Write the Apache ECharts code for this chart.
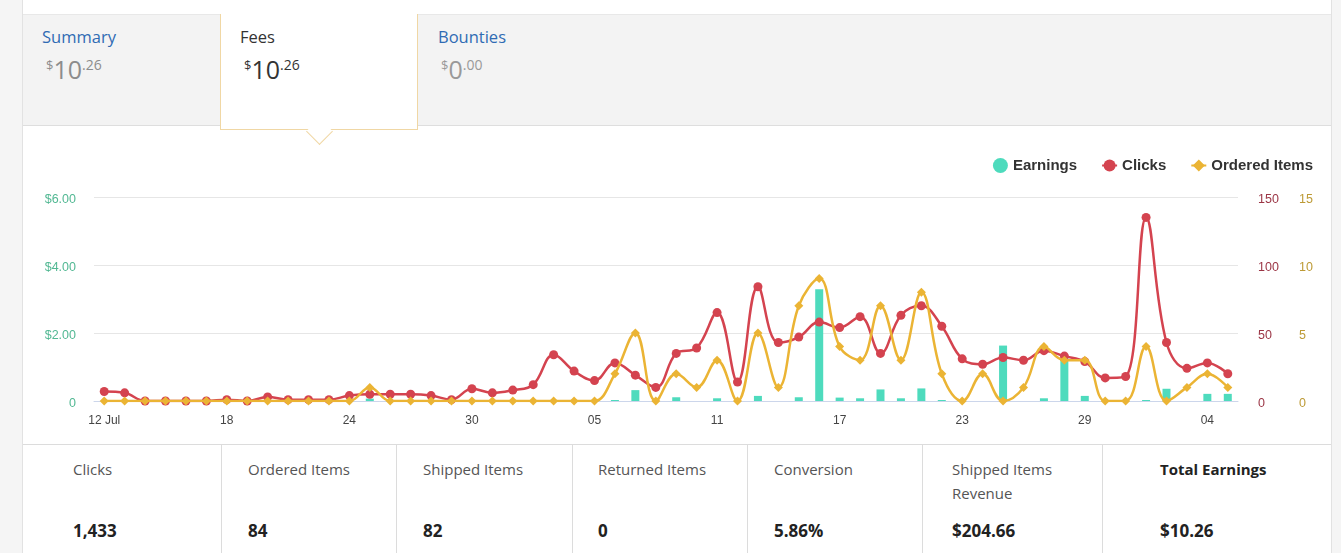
<!DOCTYPE html>
<html>
<head>
<meta charset="utf-8">
<script src="https://cdn.jsdelivr.net/npm/echarts@6/dist/echarts.min.js"></script>
<style>
  html, body { margin:0; padding:0; width:1341px; height:553px; overflow:hidden; background:#fff; font-family:"Open Sans", "Noto Sans", sans-serif; }
  .abs { position:absolute; }
  #leftband { left:0; top:0; width:22px; height:553px; background:#f5f5f5; border-right:1px solid #e2e2e2; }
  #rightband { left:1331px; top:0; width:10px; height:553px; background:#f5f5f5; border-left:1px solid #e2e2e2; }
  #tabs { left:23px; top:14px; width:1308px; height:110px; background:#f3f3f3; border-top:1px solid #e8e8e8; border-bottom:1px solid #dedede; }
  #seltab { left:220px; top:14px; width:196px; height:115px; background:#fff; border:1px solid #f0d7a4; border-top:none; z-index:2; }
  #arrow { left:310px; top:122px; width:18px; height:18px; background:#fff; border-right:1px solid #f0d7a4; border-bottom:1px solid #f0d7a4; transform:rotate(45deg); z-index:3; }
  .tabname { font-size:16.5px; line-height:20px; z-index:4; }
  .tabval { color:#8c8c8c; z-index:4; line-height:30px; }
  .tabval .cur { font-size:13px; vertical-align:9px; }
  .tabval .big { font-size:25px; }
  .tabval .dec { font-size:14px; vertical-align:9px; }
  #statsline { left:23px; top:444px; width:1308px; height:1px; background:#dcdcdc; }
  .vdiv { top:444px; width:1px; height:109px; background:#dcdcdc; }
  .slabel { font-size:15px; color:#555; line-height:24px; top:457px; }
  .sval { font-size:17px; font-weight:bold; color:#222; top:519px; line-height:24px; }
  #chart { left:0; top:0; width:1341px; height:553px; z-index:5; }
</style>
</head>
<body>
<div id="leftband" class="abs"></div>
<div id="rightband" class="abs"></div>
<div id="tabs" class="abs"></div>
<div id="seltab" class="abs"></div>
<div id="arrow" class="abs"></div>

<div class="abs tabname" style="left:42px;top:27px;color:#2f6bb3;">Summary</div>
<div class="abs tabval" style="left:46px;top:50px;"><span class="cur">$</span><span class="big">10</span><span class="dec">.26</span></div>
<div class="abs tabname" style="left:240px;top:27px;color:#333;">Fees</div>
<div class="abs tabval" style="left:244px;top:50px;color:#333;"><span class="cur">$</span><span class="big">10</span><span class="dec">.26</span></div>
<div class="abs tabname" style="left:438px;top:27px;color:#2f6bb3;">Bounties</div>
<div class="abs tabval" style="left:441px;top:50px;color:#999;"><span class="cur">$</span><span class="big">0</span><span class="dec">.00</span></div>

<div id="statsline" class="abs"></div>
<div class="abs vdiv" style="left:221px"></div>
<div class="abs vdiv" style="left:396px"></div>
<div class="abs vdiv" style="left:572px"></div>
<div class="abs vdiv" style="left:747px"></div>
<div class="abs vdiv" style="left:922px"></div>
<div class="abs vdiv" style="left:1102px"></div>

<div class="abs slabel" style="left:73px">Clicks</div>
<div class="abs slabel" style="left:248px">Ordered Items</div>
<div class="abs slabel" style="left:423px">Shipped Items</div>
<div class="abs slabel" style="left:598px">Returned Items</div>
<div class="abs slabel" style="left:774px">Conversion</div>
<div class="abs slabel" style="left:952px">Shipped Items<br>Revenue</div>
<div class="abs slabel" style="left:1160px;font-weight:bold;color:#222;">Total Earnings</div>

<div class="abs sval" style="left:73px">1,433</div>
<div class="abs sval" style="left:248px">84</div>
<div class="abs sval" style="left:423px">82</div>
<div class="abs sval" style="left:598px">0</div>
<div class="abs sval" style="left:774px">5.86%</div>
<div class="abs sval" style="left:952px">$204.66</div>
<div class="abs sval" style="left:1160px">$10.26</div>

<div id="chart" class="abs"></div>

<script>
const categories = [
  '12 Jul','13 Jul','14 Jul','15 Jul','16 Jul','17 Jul','18 Jul','19 Jul','20 Jul','21 Jul',
  '22 Jul','23 Jul','24 Jul','25 Jul','26 Jul','27 Jul','28 Jul','29 Jul','30 Jul','31 Jul',
  '01 Aug','02 Aug','03 Aug','04 Aug','05 Aug','06 Aug','07 Aug','08 Aug','09 Aug','10 Aug',
  '11 Aug','12 Aug','13 Aug','14 Aug','15 Aug','16 Aug','17 Aug','18 Aug','19 Aug','20 Aug',
  '21 Aug','22 Aug','23 Aug','24 Aug','25 Aug','26 Aug','27 Aug','28 Aug','29 Aug','30 Aug',
  '31 Aug','01 Sep','02 Sep','03 Sep','04 Sep','05 Sep'
];
const earnings = [
  0,0,0,0,0,0,0,0,0,0,
  0,0,0,0.07,0,0,0,0,0,0,
  0,0,0,0,0,0.03,0.32,0,0.11,0,
  0.08,0,0.15,0,0.11,3.29,0.10,0.08,0.34,0.08,
  0.37,0.03,0,0,1.63,0,0.08,1.30,0.15,0,
  0,0.03,0.36,0,0.21,0.21
];
const clicks = [
  7,6,0,0,0,0,1,0,3,1,
  1,1,4,5,5,5,4,1,9,6,
  8,12,34,22,15,28,19,10,35,39,
  65,14,84,43,47,58,54,62,35,63,
  70,55,31,27,32,30,37,33,29,17,
  18,135,43,24,28,20
];
const orderedItems = [
  0,0,0,0,0,0,0,0,0,0,
  0,0,0,1,0,0,0,0,0,0,
  0,0,0,0,0,2,5,0,2,1,
  3,0,5,1,7,9,4,3,7,3,
  8,2,0,2,0,1,4,3,3,0,
  0,4,0,1,2,1
];
const leftTicks = [0, 2, 4, 6];

const chart = echarts.init(document.getElementById('chart'), null, {renderer:'canvas'});
const FONT = '"Liberation Sans", Arial, sans-serif';
const yLabelBase = { fontSize: 12.5, fontFamily: FONT, verticalAlign: 'top', lineHeight: 6 };
chart.setOption({
  backgroundColor: 'transparent',
  animation: false,
  textStyle: { fontFamily: FONT },
  legend: {
    right: 23, top: 153,
    itemWidth: 15, itemHeight: 15, itemGap: 24,
    textStyle: { fontSize: 15, fontWeight: 'bold', color: '#333', fontFamily: FONT },
    data: [{name:'Earnings', icon:'circle'}, 'Clicks', 'Ordered Items']
  },
  grid: { left: 94, right: 103, top: 197, height: 204, containLabel: false },
  xAxis: {
    type: 'category',
    data: categories,
    boundaryGap: true,
    axisLine: { show: true, lineStyle: { color: '#ccd6eb', width: 1 } },
    axisTick: { show: false },
    axisLabel: {
      interval: function (i) { return i % 6 === 0; },
      color: '#444', fontSize: 12, margin: 14, fontFamily: FONT,
      formatter: function (v, i) { return i === 0 ? v : v.split(' ')[0]; }
    },
    splitLine: { show: false }
  },
  yAxis: [
    {
      type: 'value', min: leftTicks[0], max: leftTicks[leftTicks.length-1], interval: 2, position: 'left',
      axisLine: { show: false }, axisTick: { show: false },
      axisLabel: Object.assign({ color: '#52b893', margin: 18,
        formatter: function (v) { return v === 0 ? '0' : '$' + v.toFixed(2); } }, yLabelBase),
      splitLine: { show: true, lineStyle: { color: '#e6e6e6', width: 1 } }
    },
    {
      type: 'value', min: 0, max: 150, interval: 50, position: 'right',
      axisLine: { show: false }, axisTick: { show: false },
      axisLabel: Object.assign({ color: '#9b3545', margin: 20 }, yLabelBase),
      splitLine: { show: false }
    },
    {
      type: 'value', min: 0, max: 15, interval: 5, position: 'right', offset: 41,
      axisLine: { show: false }, axisTick: { show: false },
      axisLabel: Object.assign({ color: '#bd9a35', margin: 20 }, yLabelBase),
      splitLine: { show: false }
    }
  ],
  series: [
    {
      name: 'Earnings', type: 'bar', yAxisIndex: 0, data: earnings,
      barWidth: 8, itemStyle: { color: '#4edbbd' }, z: 1
    },
    {
      name: 'Clicks', type: 'line', yAxisIndex: 1, data: clicks,
      smooth: 0.4, symbol: 'circle', symbolSize: 9, showAllSymbol: true,
      lineStyle: { color: '#d4434f', width: 2.5 }, itemStyle: { color: '#d4434f' }, z: 3
    },
    {
      name: 'Ordered Items', type: 'line', yAxisIndex: 2, data: orderedItems,
      smooth: 0.4, symbol: 'diamond', symbolSize: 9, showAllSymbol: true,
      lineStyle: { color: '#ebb434', width: 2.5 }, itemStyle: { color: '#ebb434' }, z: 4
    }
  ]
});
</script>
</body>
</html>
